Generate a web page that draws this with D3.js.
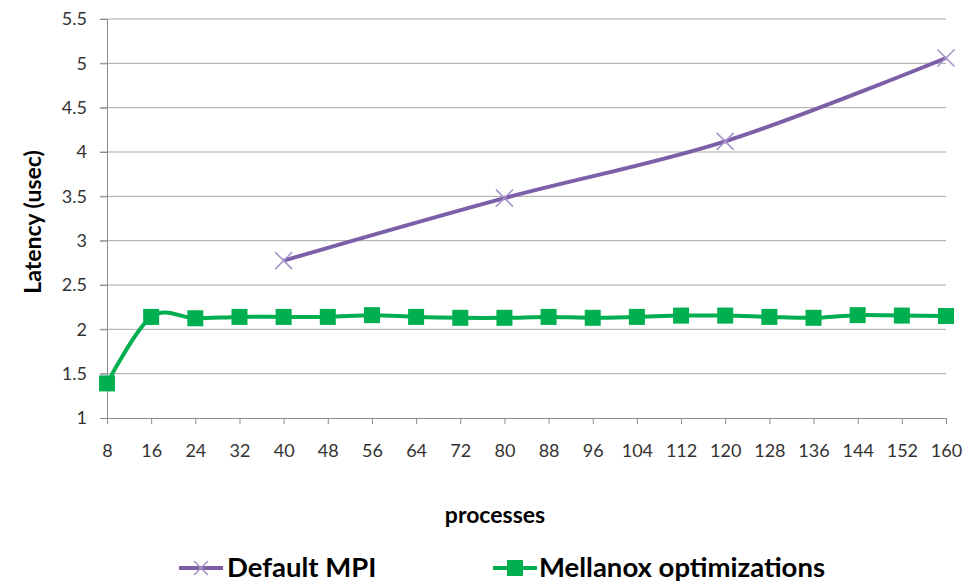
<!DOCTYPE html>
<html>
<head>
<meta charset="utf-8">
<script src="https://cdn.jsdelivr.net/npm/d3@7"></script>
<style>
  html, body { margin: 0; padding: 0; background: #fff; }
  svg { display: block; font-family: Lato, "Open Sans", sans-serif; }
</style>
</head>
<body>
<svg id="chart" width="967" height="584"></svg>
<script>
// Number of processes on the x axis
const processes = [8, 16, 24, 32, 40, 48, 56, 64, 72, 80, 88, 96, 104, 112, 120, 128, 136, 144, 152, 160];

// Latency (usec) with Mellanox optimizations, one value per process count
const mellanox = [1.39, 2.14, 2.125, 2.14, 2.14, 2.14, 2.16, 2.14, 2.13, 2.13,
                  2.14, 2.13, 2.14, 2.155, 2.155, 2.14, 2.13, 2.16, 2.155, 2.15];

// Latency (usec) with the default MPI, measured only at a few process counts
const defaultProcesses = [40, 80, 120, 160];
const defaultMpi = [2.775, 3.48, 4.12, 5.06];

// Y axis ticks
const yTicks = [1, 1.5, 2, 2.5, 3, 3.5, 4, 4.5, 5, 5.5];

const seriesNames = ["Default MPI", "Mellanox optimizations"];
const purple = "#7D5FA8", purpleMarker = "#A592CB", green = "#00B050";

const svg = d3.select("#chart");
const plotLeft = 107, plotRight = 946, plotTop = 19, plotBottom = 418;

const x = d3.scaleLinear().domain([8, 160]).range([plotLeft, plotRight]);
const y = d3.scaleLinear().domain([1, 5.5]).range([plotBottom, plotTop]);

// Horizontal gridlines
svg.append("g")
  .selectAll("line")
  .data(yTicks.slice(1))
  .join("line")
  .attr("x1", plotLeft - 7).attr("x2", plotRight)
  .attr("y1", d => y(d)).attr("y2", d => y(d))
  .attr("stroke", "#A6A6A6").attr("stroke-width", 1);

// Y axis
const yAxis = svg.append("g")
  .attr("transform", `translate(${plotLeft},0)`)
  .call(d3.axisLeft(y).tickValues(yTicks).tickSize(7).tickPadding(13).tickFormat(d3.format("")));
yAxis.select(".domain").attr("stroke", "#8C8C8C");
yAxis.selectAll(".tick line").attr("stroke", "#8C8C8C");
yAxis.selectAll("text").attr("font-size", 18).attr("fill", "#333").attr("font-family", "Lato, sans-serif");

// X axis
const xAxis = svg.append("g")
  .attr("transform", `translate(0,${plotBottom})`)
  .call(d3.axisBottom(x).tickValues(processes).tickSize(6).tickPadding(20).tickFormat(d3.format("d")));
xAxis.select(".domain").attr("stroke", "#8C8C8C").attr("d", `M${plotLeft},0.5H${plotRight}`);
xAxis.selectAll(".tick line").attr("stroke", "#8C8C8C");
xAxis.selectAll("text").attr("font-size", 18).attr("fill", "#333").attr("font-family", "Lato, sans-serif");

// Axis titles
svg.append("text")
  .attr("x", 495).attr("y", 523)
  .attr("text-anchor", "middle")
  .attr("font-size", 23).attr("font-weight", "bold").attr("fill", "#000")
  .text("processes");

svg.append("text")
  .attr("transform", "translate(41,222) rotate(-90)")
  .attr("text-anchor", "middle")
  .attr("font-size", 23).attr("font-weight", "bold").attr("fill", "#000")
  .text("Latency (usec)");

const curve = d3.curveCardinal.tension(0);

// Default MPI line
const defaultPts = defaultProcesses.map((p, i) => [p, defaultMpi[i]]);
svg.append("path")
  .datum(defaultPts)
  .attr("fill", "none").attr("stroke", purple).attr("stroke-width", 4)
  .attr("d", d3.line().x(d => x(d[0])).y(d => y(d[1])).curve(curve));

const xMark = (g, cx, cy, r) => {
  g.append("path")
    .attr("d", `M${cx - r},${cy - r}L${cx + r},${cy + r}M${cx - r},${cy + r}L${cx + r},${cy - r}`)
    .attr("stroke", purpleMarker).attr("stroke-width", 1.5).attr("fill", "none");
};
const purpleMarks = svg.append("g");
defaultPts.forEach(d => xMark(purpleMarks, x(d[0]), y(d[1]), 8.5));

// Mellanox line
const mellPts = processes.map((p, i) => [p, mellanox[i]]);
svg.append("path")
  .datum(mellPts)
  .attr("fill", "none").attr("stroke", green).attr("stroke-width", 4)
  .attr("d", d3.line().x(d => x(d[0])).y(d => y(d[1])).curve(curve));

svg.append("g")
  .selectAll("rect")
  .data(mellPts)
  .join("rect")
  .attr("x", d => x(d[0]) - 8).attr("y", d => y(d[1]) - 8)
  .attr("width", 16).attr("height", 16)
  .attr("fill", green);

// Legend
const legend = svg.append("g");
const legendItems = [
  { name: seriesNames[0], x1: 179, x2: 223, tx: 227 },
  { name: seriesNames[1], x1: 493, x2: 537, tx: 539 }
];
const ly = 568;
legendItems.forEach((it, i) => {
  legend.append("line")
    .attr("x1", it.x1).attr("x2", it.x2).attr("y1", ly).attr("y2", ly)
    .attr("stroke", i === 0 ? purple : green).attr("stroke-width", 4);
  const mx = (it.x1 + it.x2) / 2;
  if (i === 0) {
    xMark(legend, mx, ly, 7);
  } else {
    legend.append("rect")
      .attr("x", mx - 8).attr("y", ly - 8).attr("width", 16).attr("height", 16)
      .attr("fill", green);
  }
  legend.append("text")
    .attr("x", it.tx).attr("y", 577)
    .attr("font-size", 27.5).attr("font-weight", "bold").attr("fill", "#000")
    .text(it.name);
});
</script>
</body>
</html>
